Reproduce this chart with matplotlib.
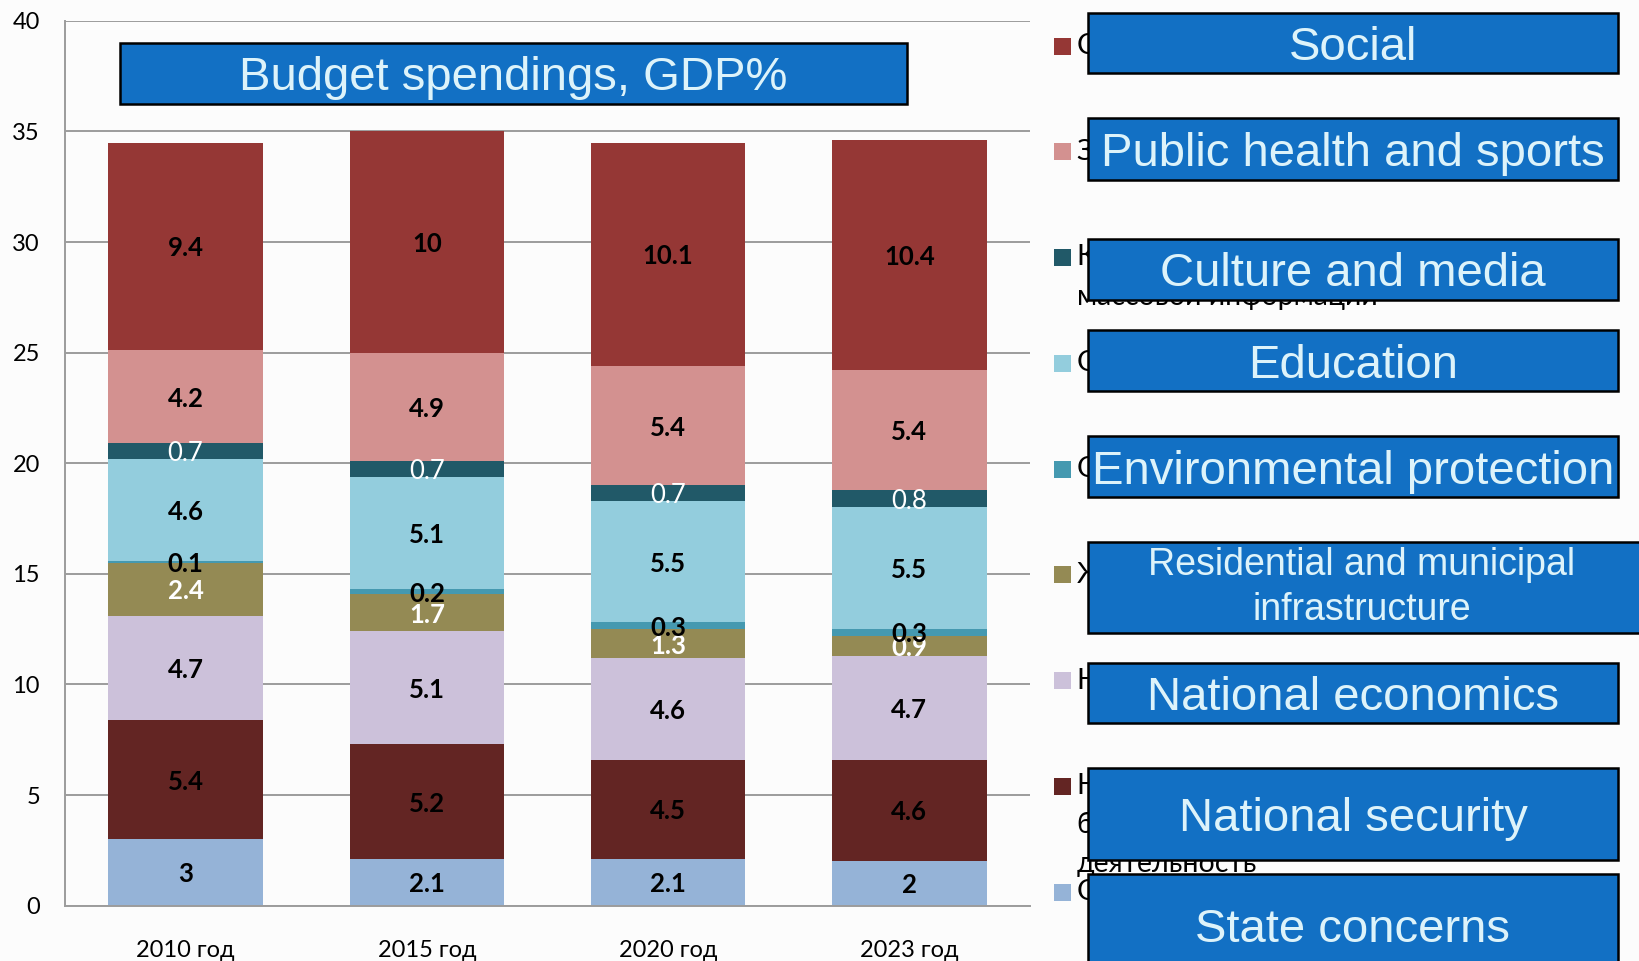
import matplotlib
matplotlib.use('Agg')
import matplotlib.pyplot as plt
from matplotlib.patches import Rectangle

# ---------------- data ----------------
years = ['2010 год', '2015 год', '2020 год', '2023 год']

# stacking order: bottom -> top
state = [3, 2.1, 2.1, 2]
security = [5.4, 5.2, 4.5, 4.6]
economy = [4.7, 5.1, 4.6, 4.7]
housing = [2.4, 1.7, 1.3, 0.9]
environment = [0.1, 0.2, 0.3, 0.3]
education = [4.6, 5.1, 5.5, 5.5]
culture = [0.7, 0.7, 0.7, 0.8]
health = [4.2, 4.9, 5.4, 5.4]
social = [9.4, 10, 10.1, 10.4]

series_values = [state, security, economy, housing, environment,
                 education, culture, health, social]
series_ru = [
    'Общегосударственные вопросы',
    'Национальная оборона, национальная\nбезопасность и правоохранительная\nдеятельность',
    'Национальная экономика',
    'Жилищно-коммунальное хозяйство',
    'Охрана окружающей среды',
    'Образование',
    'Культура, кинематография и средства\nмассовой информации',
    'Здравоохранение, физкультура и спорт',
    'Социальная политика',
]
series_en = [
    'State concerns',
    'National security',
    'National economics',
    'Residential and municipal\ninfrastructure',
    'Environmental protection',
    'Education',
    'Culture and media',
    'Public health and sports',
    'Social',
]
title_text = 'Budget spendings, GDP%'
y_ticks = [0, 5, 10, 15, 20, 25, 30, 35, 40]

# ---------------- style ----------------
colors = ['#95B3D7', '#632523', '#CCC1DA', '#948A54', '#4599B0',
          '#93CDDD', '#215968', '#D39190', '#953735']
label_colors = ['black'] * 9
label_colors[3] = 'white'   # housing
label_colors[6] = 'white'   # culture
label_weights = ['bold'] * 9
label_weights[6] = 'normal'

BOX_FACE = '#1270C4'
BOX_TEXT = '#DDF3FA'
GRID = '#9C9C9C'
CAL = ['Lato', 'Open Sans', 'DejaVu Sans']
ARIAL = ['Liberation Sans', 'DejaVu Sans']

W, H = 1640, 961
fig = plt.figure(figsize=(W / 100, H / 100), dpi=100)
fig.patch.set_facecolor('#FCFCFC')


def fx(px):
    return px / W


def fy(py):
    return 1 - py / H


ax = fig.add_axes([fx(65), fy(905.6), fx(1030) - fx(65), fy(20.9) - fy(905.6)])
ax.set_facecolor('none')

x = list(range(len(years)))
bottoms = [0.0] * len(years)
for vals, col, lc, lw in zip(series_values, colors, label_colors, label_weights):
    bars = ax.bar(x, vals, width=0.64, bottom=bottoms, color=col,
                  edgecolor='none', zorder=2)
    texts = ax.bar_label(bars, labels=[f'{v:g}' for v in vals], label_type='center',
                         color=lc, fontweight=lw, fontsize=18.5, family=CAL, zorder=4)
    for t in texts:
        t.set_va('center_baseline')
    bottoms = [b + v for b, v in zip(bottoms, vals)]

ax.set_xlim(-0.5, 3.5)
ax.set_ylim(0, 40)
ax.set_yticks(y_ticks)
ax.set_xticks(x)
ax.set_xticklabels(years)
ax.yaxis.grid(True, color=GRID, linewidth=1.4, zorder=0)
ax.set_axisbelow(True)
for s in ['top', 'right']:
    ax.spines[s].set_visible(False)
for s in ['left', 'bottom']:
    ax.spines[s].set_color(GRID)
    ax.spines[s].set_linewidth(1.4)
ax.tick_params(axis='both', length=0, labelsize=17)
ax.tick_params(axis='y', pad=18)
ax.tick_params(axis='x', pad=25)
for t in ax.get_xticklabels() + ax.get_yticklabels():
    t.set_family(CAL)

# ---------------- legend (top to bottom) ----------------
leg_top = 46
leg_step = 105.75
n = len(series_ru)
for i in range(n):
    k = n - 1 - i
    cy = leg_top + i * leg_step
    fig.add_artist(Rectangle((fx(1054), fy(cy + 8.5)), fx(17), 17 / H,
                             transform=fig.transFigure, facecolor=colors[k],
                             edgecolor='none', zorder=5))
    for j, line in enumerate(series_ru[k].split('\n')):
        fig.text(fx(1077), fy(cy + j * 39), line, ha='left', va='center',
                 fontsize=20.5, family=CAL, color='black', zorder=5)


# ---------------- blue boxes ----------------
def blue_box(x0, y0, x1, y1, text, size, tx=None, linesp=1.2, va='center_baseline'):
    fig.add_artist(Rectangle((fx(x0), fy(y1)), fx(x1) - fx(x0), (y1 - y0) / H,
                             transform=fig.transFigure, facecolor=BOX_FACE,
                             edgecolor='black', linewidth=1.8, zorder=10))
    cx = (x0 + x1) / 2 if tx is None else tx
    fig.text(fx(cx), fy((y0 + y1) / 2), text, ha='center', va=va,
             fontsize=size, family=ARIAL, color=BOX_TEXT, zorder=11,
             linespacing=linesp, multialignment='center')


blue_box(120, 43, 907, 104, title_text, 34)

box_rows = [(13, 73), (118, 180), (239, 300), (330, 391), (436, 497),
            (542, 633), (663, 723), (768, 860), (874, 975)]
for i, (y0, y1) in enumerate(box_rows):
    k = n - 1 - i
    if '\n' in series_en[k]:
        blue_box(1088, y0, 1650, y1, series_en[k], 27, tx=1362, linesp=1.3,
                 va='center')
    else:
        blue_box(1088, y0, 1618, y1, series_en[k], 34)

fig.savefig('out.png', dpi=100, facecolor=fig.get_facecolor())
